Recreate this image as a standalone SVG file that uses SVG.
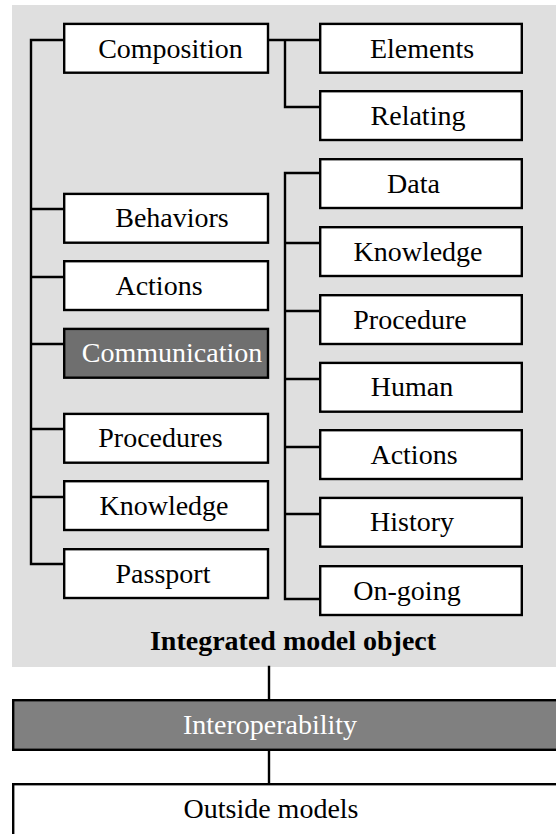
<svg xmlns="http://www.w3.org/2000/svg" width="556" height="834" viewBox="0 0 556 834">
  <style>
    .box { fill: #ffffff; stroke: #000000; stroke-width: 2.4; }
    .dark { fill: #6f6f6f; stroke: #000000; stroke-width: 2.4; }
    .mid { fill: #808080; stroke: #000000; stroke-width: 2.4; }
    .lbl { font-family: "Liberation Serif", "Times New Roman", serif; font-size: 28px; fill: #000000; text-anchor: middle; }
    .lbl-w { font-family: "Liberation Serif", "Times New Roman", serif; font-size: 28px; fill: #ffffff; text-anchor: middle; }
    .title { font-family: "Liberation Serif", "Times New Roman", serif; font-size: 28px; font-weight: bold; fill: #000000; text-anchor: middle; }
    .wire { fill: none; stroke: #000000; stroke-width: 2.4; stroke-linecap: square; }
  </style>

  <!-- integrated model object panel -->
  <rect id="panel" x="12" y="5" width="544" height="662" fill="#dfdfdf"/>
  <text class="title" x="293" y="650">Integrated model object</text>

  <!-- connectors -->
  <g id="connectors">
    <!-- left trunk -->
    <path class="wire" d="M63 40 H31 V564 H63 M31 209 H63 M31 277 H63 M31 344 H63 M31 429 H63 M31 497 H63"/>
    <!-- composition children -->
    <path class="wire" d="M269 40 H319 M285 40 V107 H319"/>
    <!-- communication children -->
    <path class="wire" d="M319 173 H285 V599 H319 M285 243 H319 M285 311 H319 M285 379 H319 M285 447 H319 M285 514 H319"/>
    <!-- panel to interoperability to outside -->
    <path class="wire" d="M269 667 V699 M269 751 V783"/>
  </g>

  <!-- left column -->
  <g id="composition"><rect class="box" x="64.2" y="23.9" width="203.8" height="48.8"/><text class="lbl" x="170.5" y="57.5">Composition</text></g>
  <g id="behaviors"><rect class="box" x="64.2" y="193.9" width="203.8" height="48.8"/><text class="lbl" x="172" y="227">Behaviors</text></g>
  <g id="actions-left"><rect class="box" x="64.2" y="261.2" width="203.8" height="48.8"/><text class="lbl" x="159" y="294.5">Actions</text></g>
  <g id="communication"><rect class="dark" x="64.2" y="328.9" width="203.8" height="48.8"/><text class="lbl-w" x="172" y="362">Communication</text></g>
  <g id="procedures"><rect class="box" x="64.2" y="413.9" width="203.8" height="48.8"/><text class="lbl" x="160.5" y="447">Procedures</text></g>
  <g id="knowledge-left"><rect class="box" x="64.2" y="481.2" width="203.8" height="48.8"/><text class="lbl" x="164" y="514.5">Knowledge</text></g>
  <g id="passport"><rect class="box" x="64.2" y="549.2" width="203.8" height="48.8"/><text class="lbl" x="163" y="582.5">Passport</text></g>

  <!-- right column -->
  <g id="elements"><rect class="box" x="320.2" y="23.9" width="201.6" height="48.8"/><text class="lbl" x="422" y="57.5">Elements</text></g>
  <g id="relating"><rect class="box" x="320.2" y="91.2" width="201.6" height="48.8"/><text class="lbl" x="418" y="124.5">Relating</text></g>
  <g id="data"><rect class="box" x="320.2" y="159.2" width="201.6" height="48.8"/><text class="lbl" x="413.5" y="192.5">Data</text></g>
  <g id="knowledge-right"><rect class="box" x="320.2" y="227.2" width="201.6" height="48.8"/><text class="lbl" x="418" y="260.5">Knowledge</text></g>
  <g id="procedure"><rect class="box" x="320.2" y="295.2" width="201.6" height="48.8"/><text class="lbl" x="410" y="328.5">Procedure</text></g>
  <g id="human"><rect class="box" x="320.2" y="362.9" width="201.6" height="48.8"/><text class="lbl" x="412" y="396">Human</text></g>
  <g id="actions-right"><rect class="box" x="320.2" y="430.2" width="201.6" height="48.8"/><text class="lbl" x="414" y="463.5">Actions</text></g>
  <g id="history"><rect class="box" x="320.2" y="497.9" width="201.6" height="48.8"/><text class="lbl" x="412" y="531">History</text></g>
  <g id="ongoing"><rect class="box" x="320.2" y="566.2" width="201.6" height="48.8"/><text class="lbl" x="407" y="599.5">On-going</text></g>

  <!-- lower stack -->
  <g id="interoperability"><rect class="mid" x="13.2" y="700.2" width="560" height="49.6"/><text class="lbl-w" x="270" y="734">Interoperability</text></g>
  <g id="outside-models"><rect class="box" x="13.2" y="784.2" width="560" height="70"/><text class="lbl" x="271" y="818">Outside models</text></g>
</svg>
